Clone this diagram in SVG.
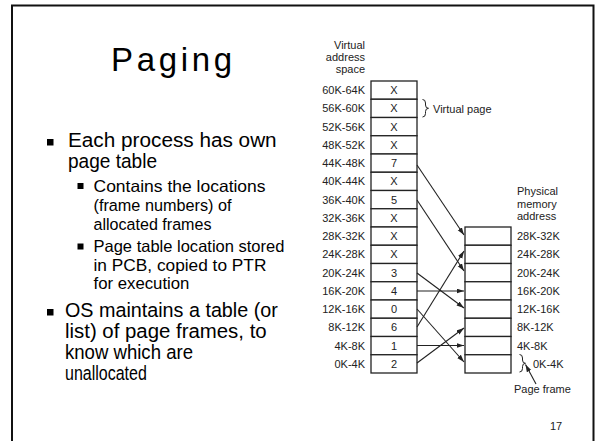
<svg xmlns="http://www.w3.org/2000/svg" width="595" height="441" viewBox="0 0 595 441">
  <style>
    .slide { font-family: "Liberation Sans", Arial, sans-serif; fill: #000; }
    .title { font-size: 33px; }
    .b1 { font-size: 19.5px; }
    .b2 { font-size: 16.5px; }
    .fig { font-family: "Liberation Sans", Arial, sans-serif; font-size: 11px; fill: #222; }
    .cell { fill: #fff; stroke: #222; stroke-width: 1.3; }
    .conn { stroke: #222; stroke-width: 1.1; fill: none; marker-end: url(#head); }
    .brace { stroke: #222; stroke-width: 1; fill: none; }
  </style>
  <defs>
    <marker id="head" markerUnits="userSpaceOnUse" markerWidth="8" markerHeight="6" refX="7.5" refY="2.5" orient="auto">
      <path d="M0,0 L7.5,2.5 L0,5 z" fill="#222"/>
    </marker>
  </defs>

  <rect width="595" height="441" fill="#fff"/>
  <!-- slide frame -->
  <path d="M12,441 V5.5 H593.5 V441" fill="none" stroke="#111" stroke-width="2"/>

  <!-- left column: title and bullets -->
  <g id="text-column" class="slide">
    <text class="title" x="111" y="71" textLength="121" lengthAdjust="spacing">Paging</text>

    <rect x="47" y="139" width="6.5" height="6.5"/>
    <rect x="77.5" y="183" width="6" height="6"/>
    <rect x="77.5" y="243.5" width="6" height="6"/>
    <rect x="47" y="309" width="6.5" height="6.5"/>

    <!-- each line carries its own horizontal set width -->
    <text class="b1" transform="matrix(1.064 0 0 1 68 146.5)">Each process has own</text>
    <text class="b1" transform="matrix(0.978 0 0 1 68 167.5)">page table</text>

    <text class="b2" transform="matrix(1.06 0 0 1 93.5 191.5)">Contains the locations</text>
    <text class="b2" transform="matrix(0.984 0 0 1 93.5 210.5)">(frame numbers) of</text>
    <text class="b2" transform="matrix(0.975 0 0 1 93.5 229.5)">allocated frames</text>

    <text class="b2" transform="matrix(1.001 0 0 1 93.5 252)">Page table location stored</text>
    <text class="b2" transform="matrix(1.048 0 0 1 93.5 270.5)">in PCB, copied to PTR</text>
    <text class="b2" transform="matrix(1.016 0 0 1 93.5 289)">for execution</text>

    <text class="b1" transform="matrix(1.013 0 0 1 65 316.5)">OS maintains a table (or</text>
    <text class="b1" transform="matrix(1.046 0 0 1 65 337.5)">list) of page frames, to</text>
    <text class="b1" transform="matrix(0.953 0 0 1 65 358.5)">know which are</text>
    <text class="b1" transform="matrix(0.821 0 0 1 65 379.5)">unallocated</text>
  </g>

  <!-- virtual address space (page table) -->
  <g id="virtual-space" class="fig">
    <text x="365" y="48.5" text-anchor="end">Virtual</text>
    <text x="365" y="60.8" text-anchor="end">address</text>
    <text x="365" y="73" text-anchor="end">space</text>
    <g id="vpages">
      <rect class="cell" x="371" y="81" width="46" height="18.25"/>
      <rect class="cell" x="371" y="99.25" width="46" height="18.25"/>
      <rect class="cell" x="371" y="117.5" width="46" height="18.25"/>
      <rect class="cell" x="371" y="135.75" width="46" height="18.25"/>
      <rect class="cell" x="371" y="154" width="46" height="18.25"/>
      <rect class="cell" x="371" y="172.25" width="46" height="18.25"/>
      <rect class="cell" x="371" y="190.5" width="46" height="18.25"/>
      <rect class="cell" x="371" y="208.75" width="46" height="18.25"/>
      <rect class="cell" x="371" y="227" width="46" height="18.25"/>
      <rect class="cell" x="371" y="245.25" width="46" height="18.25"/>
      <rect class="cell" x="371" y="263.5" width="46" height="18.25"/>
      <rect class="cell" x="371" y="281.75" width="46" height="18.25"/>
      <rect class="cell" x="371" y="300" width="46" height="18.25"/>
      <rect class="cell" x="371" y="318.25" width="46" height="18.25"/>
      <rect class="cell" x="371" y="336.5" width="46" height="18.25"/>
      <rect class="cell" x="371" y="354.75" width="46" height="18.25"/>
    </g>
    <g text-anchor="end">
      <text x="365" y="94.2">60K-64K</text>
      <text x="365" y="112.45">56K-60K</text>
      <text x="365" y="130.7">52K-56K</text>
      <text x="365" y="148.95">48K-52K</text>
      <text x="365" y="167.2">44K-48K</text>
      <text x="365" y="185.45">40K-44K</text>
      <text x="365" y="203.7">36K-40K</text>
      <text x="365" y="221.95">32K-36K</text>
      <text x="365" y="240.2">28K-32K</text>
      <text x="365" y="258.45">24K-28K</text>
      <text x="365" y="276.7">20K-24K</text>
      <text x="365" y="294.95">16K-20K</text>
      <text x="365" y="313.2">12K-16K</text>
      <text x="365" y="331.45">8K-12K</text>
      <text x="365" y="349.7">4K-8K</text>
      <text x="365" y="367.95">0K-4K</text>
    </g>
    <g text-anchor="middle">
      <text x="394" y="94.2">X</text>
      <text x="394" y="112.45">X</text>
      <text x="394" y="130.7">X</text>
      <text x="394" y="148.95">X</text>
      <text x="394" y="167.2">7</text>
      <text x="394" y="185.45">X</text>
      <text x="394" y="203.7">5</text>
      <text x="394" y="221.95">X</text>
      <text x="394" y="240.2">X</text>
      <text x="394" y="258.45">X</text>
      <text x="394" y="276.7">3</text>
      <text x="394" y="294.95">4</text>
      <text x="394" y="313.2">0</text>
      <text x="394" y="331.45">6</text>
      <text x="394" y="349.7">1</text>
      <text x="394" y="367.95">2</text>
    </g>
  </g>

  <!-- "Virtual page" callout -->
  <g id="virtual-page-label" class="fig">
    <path class="brace" d="M422.5,99.5 Q425.5,99.5 425.5,103 L425.5,105 Q425.5,108.3 428.5,108.3 Q425.5,108.3 425.5,111.6 L425.5,113.5 Q425.5,117 422.5,117"/>
    <text x="433" y="112.5">Virtual page</text>
  </g>

  <!-- physical memory (page frames) -->
  <g id="physical-memory" class="fig">
    <text x="517" y="195">Physical</text>
    <text x="517" y="207.5">memory</text>
    <text x="517" y="220">address</text>
    <rect class="cell" x="465" y="227" width="46" height="18.25"/>
    <rect class="cell" x="465" y="245.25" width="46" height="18.25"/>
    <rect class="cell" x="465" y="263.5" width="46" height="18.25"/>
    <rect class="cell" x="465" y="281.75" width="46" height="18.25"/>
    <rect class="cell" x="465" y="300" width="46" height="18.25"/>
    <rect class="cell" x="465" y="318.25" width="46" height="18.25"/>
    <rect class="cell" x="465" y="336.5" width="46" height="18.25"/>
    <rect class="cell" x="465" y="354.75" width="46" height="18.25"/>
    <text x="517" y="240.2">28K-32K</text>
    <text x="517" y="258.45">24K-28K</text>
    <text x="517" y="276.7">20K-24K</text>
    <text x="517" y="294.95">16K-20K</text>
    <text x="517" y="313.2">12K-16K</text>
    <text x="517" y="331.45">8K-12K</text>
    <text x="517" y="349.7">4K-8K</text>
    <text x="533" y="367.5">0K-4K</text>
  </g>

  <!-- "Page frame" callout -->
  <g id="page-frame-label" class="fig">
    <path class="brace" d="M519.5,354.5 Q522.5,354.5 522.5,358 L522.5,360 Q522.5,363.3 525.5,363.3 Q522.5,363.3 522.5,366.6 L522.5,368.5 Q522.5,372 519.5,372"/>
    <line class="conn" x1="536" y1="384" x2="525.5" y2="364.5"/>
    <text x="514" y="393">Page frame</text>
  </g>

  <!-- page-to-frame mappings -->
  <g id="connectors">
    <line class="conn" x1="417" y1="165" x2="464" y2="235"/>
    <line class="conn" x1="417" y1="200" x2="464" y2="271"/>
    <line class="conn" x1="417" y1="273" x2="464" y2="308"/>
    <line class="conn" x1="417" y1="291" x2="464" y2="291"/>
    <line class="conn" x1="417" y1="309" x2="464" y2="362"/>
    <line class="conn" x1="417" y1="327" x2="464" y2="251"/>
    <line class="conn" x1="417" y1="345.5" x2="464" y2="345.5"/>
    <line class="conn" x1="417" y1="363" x2="464" y2="328"/>
  </g>

  <text class="fig" x="550" y="430" font-size="9.5">17</text>
</svg>
